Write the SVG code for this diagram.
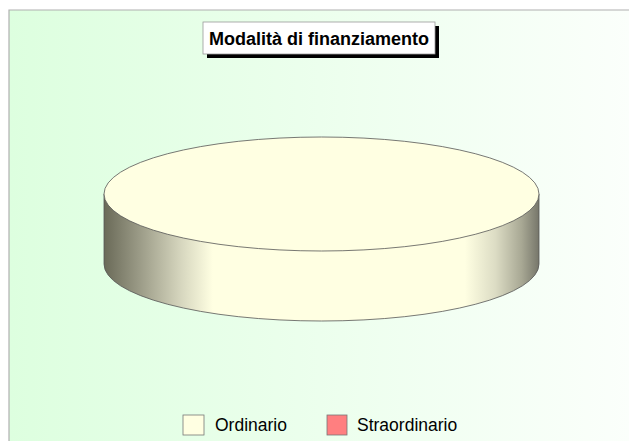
<svg xmlns="http://www.w3.org/2000/svg" width="629" height="441" viewBox="0 0 629 441">
<defs>
<linearGradient id="bg" x1="0" y1="0" x2="1" y2="0">
<stop offset="0" stop-color="#ddffdf"/>
<stop offset="1" stop-color="#fbfffb"/>
</linearGradient>
<linearGradient id="side" gradientUnits="userSpaceOnUse" x1="104" y1="0" x2="539" y2="0">
<stop offset="0" stop-color="#6a6a58"/>
<stop offset="0.08" stop-color="#9a9a86"/>
<stop offset="0.18" stop-color="#d8d8c0"/>
<stop offset="0.25" stop-color="#ffffe2"/>
<stop offset="0.83" stop-color="#ffffe2"/>
<stop offset="0.9" stop-color="#dcdcc4"/>
<stop offset="0.96" stop-color="#a8a894"/>
<stop offset="1" stop-color="#76766a"/>
</linearGradient>
</defs>
<style>
.lbl{font-family:"Liberation Sans",Arial,sans-serif;font-size:17.5px;fill:#000}
.edge{stroke:#555;stroke-width:0.8}
</style>
<rect x="0" y="0" width="629" height="441" fill="#fff"/>
<rect x="9" y="10" width="620" height="431" fill="url(#bg)"/>
<path d="M9,441 L9,10 L629,10" fill="none" stroke="#b0b0b0" stroke-width="1.2"/>
<g id="title">
<rect x="207" y="26" width="232" height="32" fill="#000"/>
<rect x="203" y="22" width="232" height="32" fill="#fff" stroke="#999" stroke-width="0.8"/>
<text x="319" y="45" text-anchor="middle" font-family="Liberation Sans,Arial,sans-serif" font-weight="bold" font-size="18">Modalità di finanziamento</text>
</g>
<g id="pie">
<path class="edge" d="M104,194 L104,264 A217.5,57 0 0 0 539,264 L539,194 Z" fill="url(#side)"/>
<ellipse class="edge" cx="321.5" cy="194" rx="217.5" ry="57" fill="#ffffe2"/>
</g>
<g id="legend">
<rect x="183" y="415" width="21" height="20" fill="#ffffe2" stroke="#777" stroke-width="0.8"/>
<text class="lbl" x="215" y="431">Ordinario</text>
<rect x="327" y="415" width="20" height="20" fill="#ff7f80" stroke="#777" stroke-width="0.8"/>
<text class="lbl" x="357" y="431">Straordinario</text>
</g>
</svg>
